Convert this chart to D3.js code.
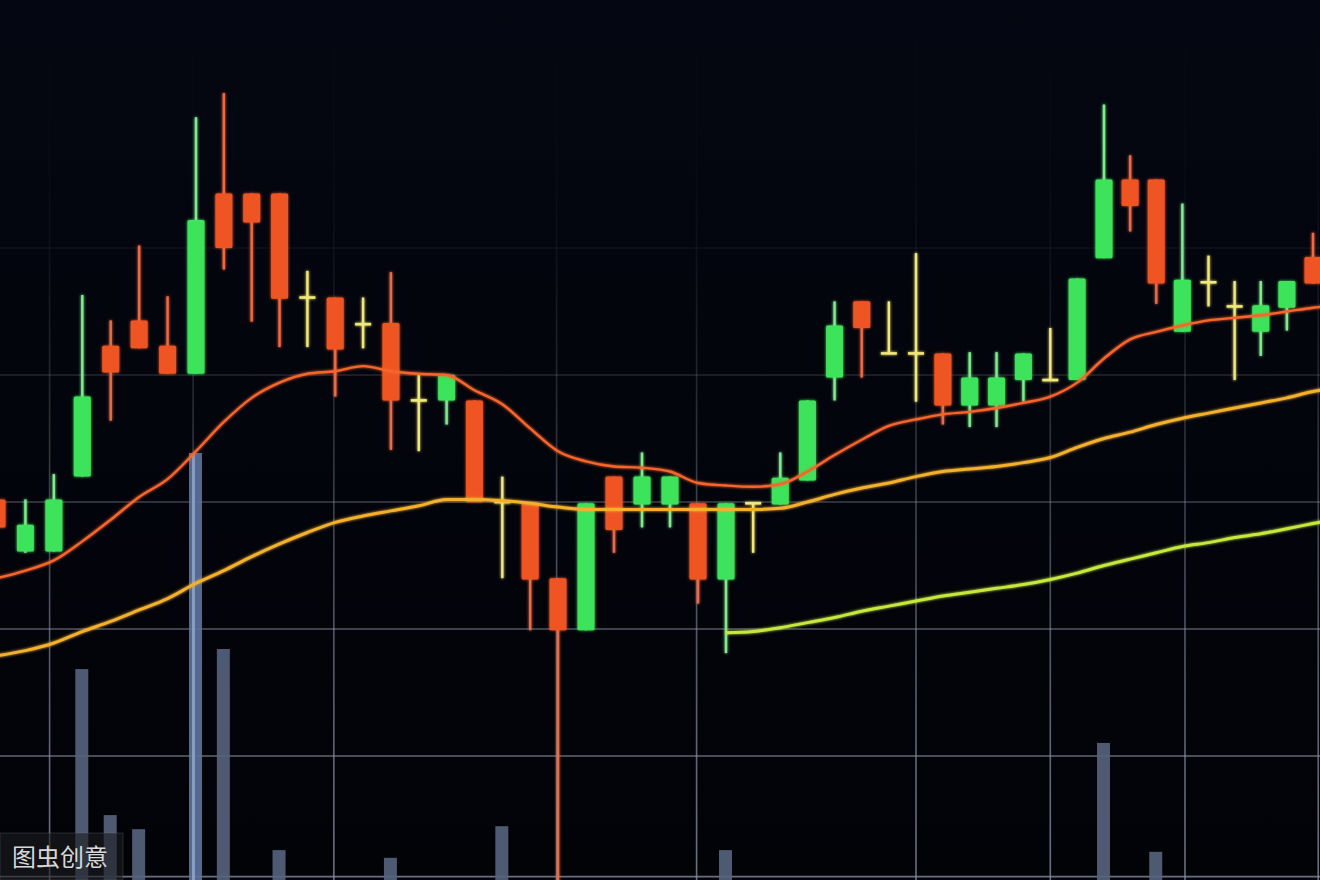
<!DOCTYPE html>
<html>
<head>
<meta charset="utf-8">
<script src="https://cdn.jsdelivr.net/npm/d3@7"></script>
<style>
  html, body { margin: 0; padding: 0; background: #03050c; overflow: hidden; }
  svg { display: block; }
</style>
</head>
<body>
<svg id="chart" width="1320" height="880"></svg>
<script>
// ---------------- DATA ----------------
const days = d3.range(49).map(i => "D" + (i + 1));

const open  = [10.02, 9.61, 9.61, 10.20, 11.23, 11.43, 11.23, 11.01, 12.43, 12.43,
               12.43, 11.61, 11.61, 11.40, 11.41, 10.80, 10.80, 10.80, 10.00, 9.99,
               9.40, 8.99, 10.20, 9.98, 9.98, 9.99, 9.39, 9.99, 9.98, 10.17,
               10.98, 11.58, 11.17, 11.17, 11.17, 10.76, 10.76, 10.96, 10.96, 10.96,
               11.92, 12.54, 12.54, 11.34, 11.73, 11.54, 11.34, 11.53, 11.93];
const high  = [10.02, 10.02, 10.22, 11.63, 11.43, 12.02, 11.62, 13.03, 13.22, 12.43,
               12.43, 11.82, 11.61, 11.61, 11.81, 11.00, 11.00, 10.80, 10.20, 9.99,
               9.40, 9.99, 10.20, 10.39, 10.20, 9.99, 9.99, 9.99, 10.39, 10.80,
               11.58, 11.58, 11.58, 11.96, 11.17, 11.18, 11.18, 11.17, 11.37, 11.76,
               13.13, 12.73, 12.54, 12.35, 11.94, 11.74, 11.74, 11.74, 12.12];
const low   = [9.80, 9.60, 9.61, 10.20, 10.64, 11.21, 11.01, 11.01, 11.83, 11.42,
               11.22, 11.22, 10.83, 11.21, 10.41, 10.40, 10.61, 10.00, 9.40, 8.99,
               6.90, 8.99, 9.60, 9.80, 9.80, 9.20, 8.81, 9.60, 9.98, 10.17,
               10.80, 10.98, 11.17, 10.79, 10.61, 10.59, 10.59, 10.79, 10.96, 10.96,
               11.92, 12.13, 11.56, 11.34, 11.54, 10.96, 11.15, 11.35, 11.72];
const close = [9.80, 9.82, 10.02, 10.83, 11.02, 11.21, 11.01, 12.22, 12.00, 12.20,
               11.60, 11.61, 11.20, 11.40, 10.80, 10.80, 11.00, 10.00, 10.00, 9.39,
               8.99, 9.99, 9.78, 10.20, 10.20, 9.39, 9.99, 9.99, 10.19, 10.80,
               11.39, 11.37, 11.17, 11.17, 10.76, 10.98, 10.98, 11.17, 10.96, 11.76,
               12.54, 12.33, 11.72, 11.75, 11.73, 11.54, 11.55, 11.74, 11.72];

const volume = [0, 0, 0, 49.4, 15.2, 11.9, 0, 100, 54.1, 0,
                7.0, 0, 0, 0, 5.2, 0, 0, 0, 12.6, 0,
                0, 0, 0, 0, 0, 0, 7.0, 0, 0, 0,
                0, 0, 0, 0, 0, 0, 0, 0, 0, 0,
                32.1, 0, 6.6, 0, 0, 0, 0, 0, 0];

// moving averages (50 periods: the last one is just beyond the right edge)
const ma1 = [9.40, 9.46, 9.54, 9.69, 9.86, 10.04, 10.18, 10.40, 10.63, 10.82,
             10.94, 11.01, 11.03, 11.07, 11.03, 11.01, 11.00, 10.88, 10.77, 10.58,
             10.40, 10.32, 10.28, 10.27, 10.24, 10.15, 10.13, 10.12, 10.14, 10.24,
             10.37, 10.49, 10.60, 10.65, 10.69, 10.71, 10.74, 10.78, 10.83, 10.94,
             11.13, 11.28, 11.34, 11.39, 11.43, 11.45, 11.47, 11.50, 11.53, 11.55];
const ma2 = [8.79, 8.83, 8.89, 8.98, 9.06, 9.15, 9.24, 9.36, 9.46, 9.57,
             9.67, 9.76, 9.84, 9.89, 9.93, 9.97, 10.02, 10.02, 10.01, 9.99,
             9.96, 9.94, 9.94, 9.94, 9.94, 9.94, 9.94, 9.94, 9.95, 10.00,
             10.06, 10.11, 10.15, 10.20, 10.24, 10.26, 10.28, 10.31, 10.35, 10.43,
             10.50, 10.55, 10.61, 10.66, 10.70, 10.74, 10.78, 10.82, 10.87, 10.90];
const ma3 = [null, null, null, null, null, null, null, null, null, null,
             null, null, null, null, null, null, null, null, null, null,
             null, null, null, null, null, null, 8.97, 8.98, 9.01, 9.05,
             9.09, 9.14, 9.18, 9.22, 9.26, 9.29, 9.32, 9.35, 9.39, 9.44,
             9.50, 9.55, 9.60, 9.65, 9.68, 9.72, 9.75, 9.79, 9.83, 9.87];

// grid positions
const gridPrices = [12, 11, 10, 9, 8, 7.05];
const gridPeriods = [1.85, 6.9, 11.95, 19.95, 24.95, 33, 38, 43.1, 48.2];

const watermark = "图虫创意";

// ---------------- DRAW ----------------
const W = 1320, H = 880;
const svg = d3.select("#chart");

// index -> x (slight perspective compression toward the right)
const x = d3.scaleLinear()
  .domain([0, 7, 20, 26, 33, 40, 48])
  .range([-3, 196, 558, 726, 916, 1104, 1313]);
const y = d3.scaleLinear().domain([7, 14]).range([883, -6]);
const yVol = d3.scaleLinear().domain([0, 100]).range([880, 453]);

const defs = svg.append("defs");
const bg = defs.append("linearGradient").attr("id", "bg")
  .attr("x1", 0).attr("y1", 0).attr("x2", 0).attr("y2", 1);
bg.append("stop").attr("offset", 0).attr("stop-color", "#040611");
bg.append("stop").attr("offset", 1).attr("stop-color", "#020307");

const gg = defs.append("linearGradient").attr("id", "gridGrad")
  .attr("gradientUnits", "userSpaceOnUse")
  .attr("x1", 0).attr("y1", 0).attr("x2", 0).attr("y2", H);
[[0, 0.0], [0.2, 0.03], [0.29, 0.08], [0.43, 0.24], [0.57, 0.42], [0.72, 0.58], [0.86, 0.68], [1, 0.76]]
  .forEach(([o, a]) => gg.append("stop").attr("offset", o)
    .attr("stop-color", "#8a93a8").attr("stop-opacity", a));

const glow = defs.append("filter").attr("id", "glow")
  .attr("x", "-20%").attr("y", "-20%").attr("width", "140%").attr("height", "140%");
glow.append("feGaussianBlur").attr("in", "SourceGraphic").attr("stdDeviation", 1.6).attr("result", "b");
const fm = glow.append("feMerge");
fm.append("feMergeNode").attr("in", "b");
fm.append("feMergeNode").attr("in", "SourceGraphic");

svg.append("rect").attr("width", W).attr("height", H).attr("fill", "url(#bg)");

// grid
const grid = svg.append("g").attr("stroke", "url(#gridGrad)").attr("stroke-width", 1.6);
grid.selectAll("line.h").data(gridPrices).join("line").attr("class", "h")
  .attr("x1", 0).attr("x2", W).attr("y1", d => y(d)).attr("y2", d => y(d));
grid.selectAll("line.v").data(gridPeriods).join("line").attr("class", "v")
  .attr("x1", d => x(d)).attr("x2", d => x(d)).attr("y1", 0).attr("y2", H);

// volume bars
const vmax = d3.max(volume);
const vol = svg.append("g");
vol.selectAll("rect").data(volume.map((v, i) => ({v, i})).filter(d => d.v > 0)).join("rect")
  .attr("x", d => x(d.i) - 7)
  .attr("width", 13)
  .attr("y", d => yVol(d.v))
  .attr("height", d => yVol(0) - yVol(d.v))
  .attr("fill", d => d.v === vmax ? "#5d74a0" : "#55647e")
  .attr("opacity", 0.9);
vol.selectAll("line").data(volume.map((v, i) => ({v, i})).filter(d => d.v === vmax)).join("line")
  .attr("x1", d => x(d.i) - 2.5).attr("x2", d => x(d.i) - 2.5)
  .attr("y1", d => yVol(d.v)).attr("y2", H)
  .attr("stroke", "#a9bbdf").attr("stroke-width", 3).attr("opacity", 0.6);

// candles
const candles = days.map((d, i) => ({
  i, o: open[i], h: high[i], l: low[i], c: close[i],
  type: close[i] > open[i] ? "up" : close[i] < open[i] ? "down" : "doji"
}));
const bodyCol = {up: "#3de35a", down: "#ef5420", doji: "#f0e878"};
const wickCol = {up: "#7eec8c", down: "#ee6a42", doji: "#f0e878"};

const cg = svg.append("g").attr("filter", "url(#glow)");
cg.selectAll("line.wick").data(candles).join("line").attr("class", "wick")
  .attr("x1", d => x(d.i)).attr("x2", d => x(d.i))
  .attr("y1", d => y(d.h)).attr("y2", d => y(d.l))
  .attr("stroke", d => wickCol[d.type]).attr("stroke-width", 2.4);
cg.selectAll("rect.body").data(candles.filter(d => d.type !== "doji")).join("rect").attr("class", "body")
  .attr("x", d => x(d.i) - 8.5).attr("width", 17)
  .attr("y", d => y(Math.max(d.o, d.c)))
  .attr("height", d => Math.abs(y(d.o) - y(d.c)))
  .attr("rx", 1.5)
  .attr("fill", d => bodyCol[d.type]);
cg.selectAll("line.cross").data(candles.filter(d => d.type === "doji")).join("line").attr("class", "cross")
  .attr("x1", d => x(d.i) - 8).attr("x2", d => x(d.i) + 8)
  .attr("y1", d => y(d.o)).attr("y2", d => y(d.o))
  .attr("stroke", bodyCol.doji).attr("stroke-width", 2.6);

// moving averages
const line = d3.line()
  .defined(d => d.v != null)
  .x(d => x(d.i)).y(d => y(d.v))
  .curve(d3.curveMonotoneX);
const mas = [
  {data: ma1, color: "#f8652a", w: 2.4},
  {data: ma2, color: "#f4b02c", w: 3},
  {data: ma3, color: "#c6e83c", w: 3}
];
svg.append("g").attr("filter", "url(#glow)").selectAll("path").data(mas).join("path")
  .attr("d", m => line(m.data.map((v, i) => ({v, i}))))
  .attr("fill", "none")
  .attr("stroke", m => m.color)
  .attr("stroke-width", m => m.w)
  .attr("stroke-linejoin", "round");

// watermark
const wm = svg.append("g");
wm.append("rect").attr("x", 0).attr("y", 833).attr("width", 123).attr("height", 47)
  .attr("fill", "rgba(28,28,32,0.6)").attr("stroke", "rgba(140,140,150,0.25)");
wm.append("text").attr("x", 12).attr("y", 866)
  .attr("font-family", "'Noto Sans CJK SC', sans-serif").attr("font-size", 24)
  .attr("fill", "#d8d8d8").text(watermark);
</script>
</body>
</html>
